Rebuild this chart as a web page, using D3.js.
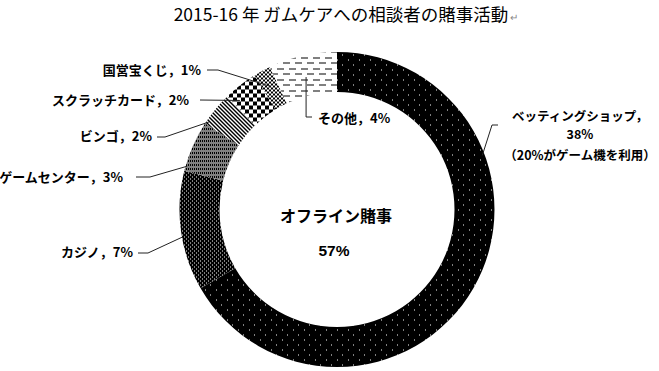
<!DOCTYPE html>
<html>
<head>
<meta charset="utf-8">
<script src="https://cdn.jsdelivr.net/npm/d3@7"></script>
<style>
body { margin: 0; background: #fff; }
.label { font-family: "Noto Sans CJK JP", sans-serif; font-size: 13px; font-weight: bold; fill: #000; }
.title { font-family: "Noto Sans CJK JP", sans-serif; font-size: 17.5px; fill: #000; }
.center { font-family: "Noto Sans CJK JP", sans-serif; font-weight: bold; fill: #000; }
</style>
</head>
<body>
<div id="chart"></div>
<script>
// data (clockwise from 12 o'clock)
var categories = ["ベッティングショップ", "カジノ", "ゲームセンター", "ビンゴ", "スクラッチカード", "国営宝くじ", "その他"];
var values = [38, 7, 3, 2, 2, 1, 4];
var title_text = "2015-16 年 ガムケアへの相談者の賭事活動";
var center_text = "オフライン賭事";
var betting_note = "（20%がゲーム機を利用）";

var w = 659, h = 371;
var cx = 337, cy = 209.5;
var r_out = 157.5, r_in = 117.5;

var svg = d3.select("#chart")
  .append("svg")
    .attr("width", w)
    .attr("height", h);

// <-- PATTERNS -------------
var defs = svg.append("defs");

function makePattern(id, pw, ph, bg, px, fg) {
    var p = defs.append("pattern")
        .attr("id", id)
        .attr("patternUnits", "userSpaceOnUse")
        .attr("width", pw)
        .attr("height", ph);
    p.append("rect").attr("width", pw).attr("height", ph).attr("fill", bg);
    px.forEach(function(c) {
        p.append("rect")
            .attr("x", c[0]).attr("y", c[1])
            .attr("width", c[2] || 1).attr("height", c[3] || 1)
            .attr("fill", fg)
            .attr("shape-rendering", "crispEdges");
    });
}
// betting: black, sparse white dots
makePattern("p0", 11, 10, "#000", [[0, 0], [5, 5]], "#fff");
// casino: black, dense white dots
makePattern("p1", 4, 4, "#000", [[1, 1], [3, 3]], "#fff");
// game centre: dark fine grain
makePattern("p2", 4, 4, "#000", [[0, 0], [2, 0], [1, 1], [3, 1], [0, 2], [2, 2]], "#fff");
// bingo: diagonal stripes
makePattern("p3", 4, 4, "#fff", [[0, 0, 2], [1, 1, 2], [2, 2, 2], [3, 3, 1], [0, 3, 1]], "#000");
// scratch card: big checker
makePattern("p4", 8, 8, "#fff", [[0, 0, 4, 4], [4, 4, 4, 4]], "#000");
// lottery: small checker
makePattern("p5", 4, 4, "#fff", [[0, 0, 2, 2], [2, 2, 2, 2]], "#000");
// other: dashed lines
makePattern("p6", 12, 11, "#fff", [[0, 2, 7, 1], [6, 7, 6, 1], [0, 7, 1, 1]], "#000");
// -- PATTERNS ------------->

// <-- DONUT -------------
var pie = d3.pie().sort(null).value(function(d) { return d; });
var arcs = pie(values);
var arc = d3.arc().innerRadius(r_in).outerRadius(r_out);

var g = svg.append("g").attr("transform", "translate(" + cx + "," + cy + ")");
g.selectAll("path")
    .data(arcs)
    .enter().append("path")
    .attr("d", arc)
    .attr("fill", function(d, i) { return "url(#p" + i + ")"; });
// -- DONUT ------------->

// point on a slice: fraction along its angle span, at radius r
function slicePoint(i, frac, r) {
    var a = arcs[i].startAngle + (arcs[i].endAngle - arcs[i].startAngle) * frac;
    return [cx + r * Math.sin(a), cy - r * Math.cos(a)];
}

// <-- LABELS -------------
// layout for each slice label: text position, leader start, target on the slice
var layout = [
    {x: 580, y: 121, anchor: "middle", lead: [[498, 125], [492, 125]], frac: 0.29, r: 155},
    {x: 133, y: 257, anchor: "end", lead: [[138, 253], [148, 253]], frac: 0.45, r: 157},
    {x: 123, y: 182, anchor: "end", lead: [[136, 177], [150, 177]], frac: 0.1, r: 156},
    {x: 152, y: 141, anchor: "end", lead: [[157, 137], [165, 137]], frac: 0.1, r: 155},
    {x: 189, y: 105, anchor: "end", lead: [[200, 100]], frac: 0.2, r: 146},
    {x: 201, y: 75, anchor: "end", lead: [[207, 70], [218, 70]], frac: 0.5, r: 140},
    {x: 318, y: 123, anchor: "start", lead: [[312, 117]], frac: 0.48, r: 136}
];

var line = d3.line();
layout.forEach(function(L, i) {
    var t = slicePoint(i, L.frac, L.r);
    var pts = L.lead.slice();
    if (i == 6) {
        pts.push([t[0], pts[0][1]]);
    }
    pts.push(t);
    svg.append("path")
        .attr("d", line(pts))
        .attr("fill", "none")
        .attr("stroke", "#222")
        .attr("stroke-width", 1);

    if (i == 0) {
        // three separate lines for the betting label
        var rows = [categories[i] + "，", values[i] + "%", betting_note];
        var dys = [0, 18, 39];
        rows.forEach(function(s, k) {
            svg.append("text")
                .attr("class", "label")
                .attr("x", L.x)
                .attr("y", L.y + dys[k])
                .attr("text-anchor", L.anchor)
                .style("font-size", "12.5px")
                .text(s);
        });
    } else {
        svg.append("text")
            .attr("class", "label")
            .attr("x", L.x)
            .attr("y", L.y)
            .attr("text-anchor", L.anchor)
            .text(categories[i] + "，" + values[i] + "%");
    }
});
// -- LABELS ------------->

// centre text
svg.append("text")
    .attr("class", "center")
    .attr("x", 336).attr("y", 222)
    .attr("text-anchor", "middle")
    .style("font-size", "16px")
    .text(center_text);
svg.append("text")
    .attr("class", "center")
    .attr("x", 334).attr("y", 256)
    .attr("text-anchor", "middle")
    .style("font-family", "'Liberation Sans', Arial, sans-serif")
    .style("font-size", "15.5px")
    .text(d3.sum(values) + "%");

// title
var title = svg.append("text")
    .attr("class", "title")
    .attr("x", 346).attr("y", 21)
    .attr("text-anchor", "middle")
    .text(title_text);
title.append("tspan")
    .attr("fill", "#888")
    .style("font-size", "10px")
    .attr("dx", 2)
    .text("↵");
</script>
</body>
</html>
